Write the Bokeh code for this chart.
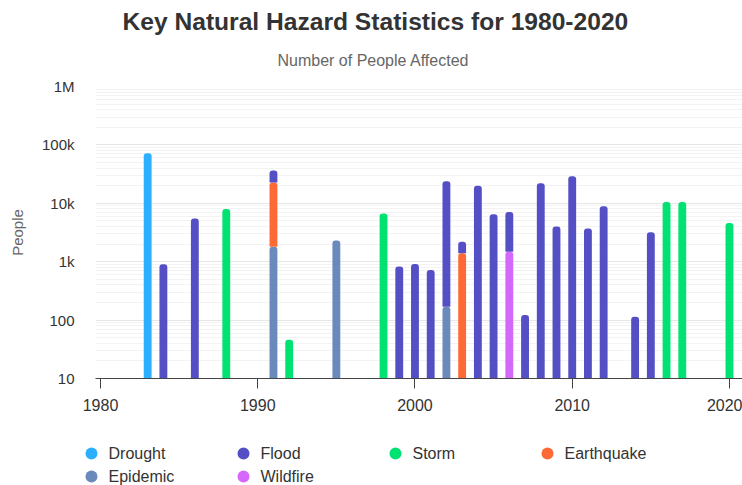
import numpy as np
from bokeh.plotting import figure
from bokeh.layouts import column, row
from bokeh.models import (Range1d, FixedTicker, CustomJSTickFormatter, Title,
                          ColumnDataSource)
from bokeh.core.properties import value
from bokeh.embed import file_html
from bokeh.resources import INLINE

# ---------------- data ----------------
years = [1983, 1984, 1986, 1988, 1991, 1992, 1995, 1998, 1999, 2000, 2001, 2002,
         2003, 2004, 2005, 2006, 2007, 2008, 2009, 2010, 2011, 2012, 2014, 2015,
         2016, 2017, 2020]
#            83     84    86    88     91     92   95    98    99   00   01    02
drought    = [72000, 0,    0,    0,     0,     0,   0,    0,    0,   0,   0,    0,
              0,    0,     0,    0,    0,   0,     0,    0,     0,    0,    0,   0,
              0,     0,     0]
flood      = [0,     900,  5500, 0,     13700, 0,   0,    0,    830, 910, 720,  23800,
              800,  20000, 6500, 5600, 122, 22000, 4000, 29000, 3700, 8900, 114, 3200,
              0,     0,     0]
storm      = [0,     0,    0,    8000,  0,     46,  0,    6700, 0,   0,   0,    0,
              0,    0,     0,    0,    0,   0,     0,    0,     0,    0,    0,   0,
              10500, 10500, 4600]
earthquake = [0,     0,    0,    0,     21000, 0,   0,    0,    0,   0,   0,    0,
              1400, 0,     0,    0,    0,   0,     0,    0,     0,    0,    0,   0,
              0,     0,     0]
epidemic   = [0,     0,    0,    0,     1800,  0,   2300, 0,    0,   0,   0,    170,
              0,    0,     0,    0,    0,   0,     0,    0,     0,    0,    0,   0,
              0,     0,     0]
wildfire   = [0,     0,    0,    0,     0,     0,   0,    0,    0,   0,   0,    0,
              0,    0,     0,    1480, 0,   0,     0,    0,     0,    0,    0,   0,
              0,     0,     0]

legend_names = ["Drought", "Flood", "Storm", "Earthquake", "Epidemic", "Wildfire"]
colors = {"Drought": "#2caffe", "Flood": "#544fc5", "Storm": "#00e272",
          "Earthquake": "#fe6a35", "Epidemic": "#6b8abc", "Wildfire": "#d568fb"}
series = {"Drought": drought, "Flood": flood, "Storm": storm,
          "Earthquake": earthquake, "Epidemic": epidemic, "Wildfire": wildfire}
# stacking order bottom -> top (first series sits on top)
stack_order = ["Wildfire", "Epidemic", "Earthquake", "Storm", "Flood", "Drought"]

x_ticks = [1980, 1990, 2000, 2010, 2020]
y_ticks = [10, 100, 1000, 10000, 100000, 1000000]

FONT = "Liberation Sans"
W = 742
H_MAIN = 418
H_LEG = 67

# ---------------- main figure ----------------
p = figure(width=W, height=H_MAIN,
           x_range=Range1d(1979.682, 2020.83), y_range=Range1d(10, 1e6),
           y_axis_type="log", output_backend="svg", toolbar_location=None,
           min_border_left=95, min_border_right=0, min_border_top=86,
           min_border_bottom=40)
p.outline_line_color = None
p.background_fill_color = "white"
p.border_fill_color = "white"

# titles (first added sits closest to the plot)
p.add_layout(Title(text="Number of People Affected", align="left",
                   vertical_align="top", standoff=31, offset=182,
                   text_font=FONT, text_font_size="16px",
                   text_font_style="normal", text_color="#666666"), "above")
p.add_layout(Title(text="Key Natural Hazard Statistics for 1980-2020", align="left",
                   vertical_align="top", standoff=-1, offset=27,
                   text_font=FONT, text_font_size="24.6px",
                   text_font_style="bold", text_color="#333333"), "above")

# bars (stacked on log axis)
cum = np.zeros(len(years))
for name in stack_order:
    vals = np.array(series[name], dtype=float)
    mask = vals > 0
    bottom = np.where(cum > 0, cum, 1.0)
    top = cum + vals
    src = ColumnDataSource(dict(x=np.array(years)[mask], bottom=bottom[mask], top=top[mask]))
    p.vbar(x="x", bottom="bottom", top="top", width=0.5, source=src,
           fill_color=colors[name], line_color=None, border_radius=(3, 3, 0, 0))
    cum = top

# axes
p.xgrid.visible = False
p.xaxis.ticker = FixedTicker(ticks=x_ticks, minor_ticks=[])
p.xaxis.major_tick_in = 0
p.xaxis.major_tick_out = 10
p.xaxis.minor_tick_line_color = None
p.xaxis.axis_line_color = "#444444"
p.xaxis.major_tick_line_color = "#444444"
p.xaxis.major_label_standoff = 10
p.xaxis.major_label_text_font = FONT
p.xaxis.major_label_text_font_size = "16px"
p.xaxis.major_label_text_color = "#333333"

minor = [m * 10 ** e for e in range(1, 6) for m in range(2, 10)]
p.yaxis.ticker = FixedTicker(ticks=y_ticks, minor_ticks=minor)
p.yaxis.formatter = CustomJSTickFormatter(code="""
    const v = Math.round(tick);
    if (v >= 1000000) return (v / 1000000) + "M";
    if (v >= 1000) return (v / 1000) + "k";
    return v.toString();
""")
p.yaxis.axis_line_color = None
p.yaxis.major_tick_line_color = None
p.yaxis.minor_tick_line_color = None
p.yaxis.major_label_standoff = 15
p.yaxis.major_label_text_font = FONT
p.yaxis.major_label_text_font_size = "15px"
p.yaxis.major_label_text_color = "#333333"
p.yaxis.axis_label = "People"
p.yaxis.axis_label_standoff = 13
p.yaxis.axis_label_text_font = FONT
p.yaxis.axis_label_text_font_size = "15px"
p.yaxis.axis_label_text_font_style = "normal"
p.yaxis.axis_label_text_color = "#666666"

p.ygrid.grid_line_color = "#e6e6e6"
p.ygrid.minor_grid_line_color = "#f3f3f3"

# ---------------- legend strip ----------------
leg = figure(width=W, height=H_LEG, x_range=Range1d(0, W), y_range=Range1d(H_LEG, 0),
             x_axis_location=None, y_axis_location=None,
             output_backend="svg", toolbar_location=None, min_border=0)
leg.outline_line_color = None
leg.grid.visible = False
leg.background_fill_color = "white"
leg.border_fill_color = "white"

COL0, COL_STEP, ROW0, ROW_STEP, PER_ROW = 91, 152, 35, 23, 4
idx = np.arange(len(legend_names))
lx = COL0 + COL_STEP * (idx % PER_ROW)
ly = ROW0 + ROW_STEP * (idx // PER_ROW)
lsrc = ColumnDataSource(dict(x=lx, y=ly, tx=lx + 17, name=legend_names,
                             color=[colors[n] for n in legend_names]))
leg.scatter(x="x", y="y", source=lsrc, marker="circle", size=12,
            fill_color="color", line_color=None)
leg.text(x="tx", y="y", text="name", source=lsrc, text_font=value(FONT),
         text_font_size="16px", text_baseline="middle", text_align="left",
         text_color="#333333")

layout = column(p, row(leg), spacing=0)
open("out.html", "w").write(file_html(layout, INLINE))
